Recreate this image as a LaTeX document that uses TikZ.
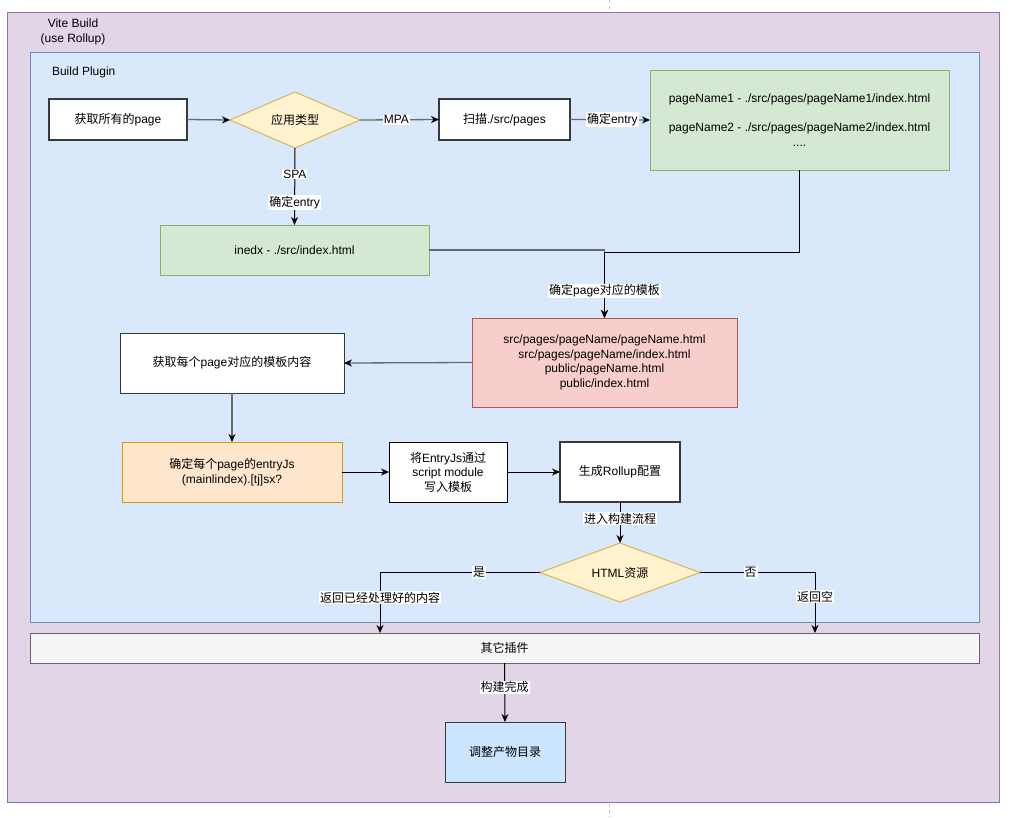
\documentclass[tikz,border=0pt]{standalone}
\usepackage{fontspec}
\setmainfont{Liberation Sans}
\newfontfamily\cjk{Noto Sans CJK SC}
\usetikzlibrary{arrows.meta,shapes.geometric}
\newcommand\zh[1]{{\cjk #1}}
\definecolor{purpfill}{HTML}{E1D5E7}
\definecolor{purpline}{HTML}{9673A6}
\definecolor{bluefill}{HTML}{DAE8FC}
\definecolor{blueline}{HTML}{6C8EBF}
\definecolor{greenfill}{HTML}{D5E8D4}
\definecolor{greenline}{HTML}{82B366}
\definecolor{yelfill}{HTML}{FFF2CC}
\definecolor{yelline}{HTML}{D6B656}
\definecolor{redfill}{HTML}{F8CECC}
\definecolor{redline}{HTML}{B85450}
\definecolor{orfill}{HTML}{FFE6CC}
\definecolor{orline}{HTML}{D79B00}
\definecolor{greyfill}{HTML}{F5F5F5}
\definecolor{greyline}{HTML}{666666}
\definecolor{lbluefill}{HTML}{CCE5FF}
\definecolor{boxgray}{HTML}{36393D}
\definecolor{linegray}{HTML}{6A6A6A}
\begin{document}
\begin{tikzpicture}[x=1pt,y=-1pt,
  font=\fontsize{12}{14.5}\selectfont,
  every node/.style={inner sep=0pt, outer sep=0pt},
  wbox/.style={draw=boxgray, fill=white, line width=1.2pt, align=center},
  kbox/.style={draw=black, fill=white, line width=1pt, align=center},
  gbox/.style={draw=greenline, fill=greenfill, line width=1pt, align=center},
  rbox/.style={draw=redline, fill=redfill, line width=1pt, align=center},
  obox/.style={draw=orline, fill=orfill, line width=1pt, align=center},
  ybox/.style={diamond, draw=yelline, fill=yelfill, line width=1pt, align=center},
  lab/.style={fill=white, inner sep=1pt},
  conn/.style={-{Stealth[length=8pt,width=7pt,inset=2.5pt,color=black]}, line width=1pt, draw=black},
  gconn/.style={conn, draw=linegray, line width=1.3pt}]
\useasboundingbox (0,0) rectangle (1019,817);
\draw[dashed, dash pattern=on 3pt off 3pt, gray!45, line width=0.8pt] (609,0) -- (609,817);
% containers
\fill[purpfill, draw=purpline, line width=1pt] (7,12) rectangle (999,802);
\node[align=center, font=\fontsize{12}{15.5}\selectfont] (vite) at (73,32) {Vite Build\\(use Rollup)};
\fill[bluefill, draw=blueline, line width=1pt] (30,52) rectangle (979,622);
\node[anchor=west] (bp) at (52,72) {Build Plugin};
% nodes
\node[wbox, minimum width=138, minimum height=41] (A) at (118,119.5) {\zh{获取所有的}page};
\node[ybox, aspect=2.3, minimum width=130, minimum height=56] (B) at (295,120) {\zh{应用类型}};
\node[wbox, minimum width=131, minimum height=41] (C) at (504.5,119.5) {\zh{扫描}./src/pages};
\node[gbox, minimum width=299, minimum height=100] (D) at (799.5,120) {pageName1 - ./src/pages/pageName1/index.html\\[14.5pt]pageName2 - ./src/pages/pageName2/index.html\\....};
\node[gbox, minimum width=269, minimum height=50] (E) at (294.5,250) {inedx - ./src/index.html};
\node[rbox, minimum width=265, minimum height=89] (F) at (604.5,362.5) {src/pages/pageName/pageName.html\\src/pages/pageName/index.html\\public/pageName.html\\public/index.html};
\node[kbox, draw=boxgray, minimum width=224, minimum height=60] (G) at (232,363) {\zh{获取每个}page\zh{对应的模板内容}};
\node[obox, minimum width=220, minimum height=60] (H) at (232,472) {\zh{确定每个}page\zh{的}entryJs\\(mainlindex).[tj]sx?};
\node[kbox, minimum width=118, minimum height=60] (I) at (448,472) {\zh{将}EntryJs\zh{通过}\\script module\\\zh{写入模板}};
\node[wbox, minimum width=120, minimum height=60] (J) at (620,472) {\zh{生成}Rollup\zh{配置}};
\node[ybox, aspect=2.7, minimum width=160, minimum height=59] (K) at (620,572.5) {HTML\zh{资源}};
\node[draw=greyline, fill=greyfill, line width=1pt, minimum width=949, minimum height=30] (L) at (504.5,648) {\zh{其它插件}};
\node[draw=boxgray, fill=lbluefill, line width=1pt, minimum width=120, minimum height=60] (M) at (505,752) {\zh{调整产物目录}};
% coordinates
\coordinate (dj) at (604.5,252);
\coordinate (l1) at (380,633);
\coordinate (l2) at (815,633);
% connectors
\draw[gconn] (A.east) -- (B.west);
\draw[gconn] (B.east) -- (C.west) node[lab, pos=0.46, text=black] {MPA};
\draw[gconn] (C.east) -- (D.west) node[lab, pos=0.53, text=black] {\zh{确定}entry};
\draw[conn] (B.south) -- (E.north)
  node[lab, pos=0.34] {SPA}
  node[lab, pos=0.71] {\zh{确定}entry};
\draw[gconn] (E.east) -| (F.north);
\draw[conn] (D.south) |- (dj) -- (F.north) node[lab, pos=0.59] {\zh{确定}page\zh{对应的模板}};
\draw[gconn] (F.west) -- (G.east);
\draw[gconn] (G.south) -- (H.north);
\draw[conn] (H.east) -- (I.west);
\draw[conn] (I.east) -- (J.west);
\draw[conn] (J.south) -- (K.north) node[lab, pos=0.41] {\zh{进入构建流程}};
\draw[conn] (K.west) -| (l1)
  node[lab, pos=0.19] {\zh{是}}
  node[lab, pos=0.71] {\zh{返回已经处理好的内容}};
\draw[conn] (K.east) -| (l2)
  node[lab, pos=0.22] {\zh{否}}
  node[lab, pos=0.70] {\zh{返回空}};
\draw[conn] (L.south) -- (M.north) node[lab, pos=0.41] {\zh{构建完成}};
\end{tikzpicture}
\end{document}
